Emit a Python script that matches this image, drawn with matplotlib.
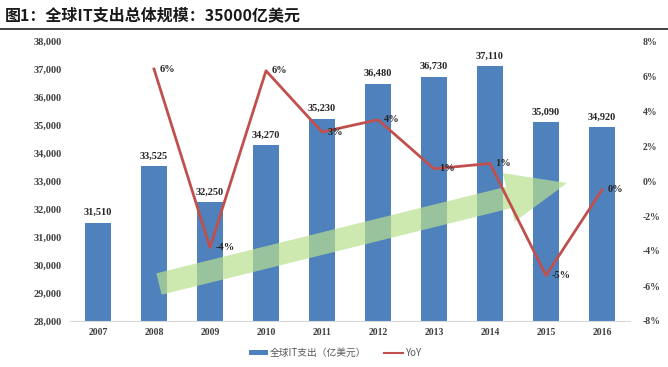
import matplotlib
matplotlib.use("Agg")
import matplotlib.pyplot as plt
import numpy as np
from matplotlib.patches import Polygon
from matplotlib.lines import Line2D
from matplotlib.patches import Patch

plt.rcParams['font.family'] = ['Noto Sans CJK SC', 'DejaVu Sans']

years = ['2007', '2008', '2009', '2010', '2011', '2012', '2013', '2014', '2015', '2016']
spend = [31510, 33525, 32250, 34270, 35230, 36480, 36730, 37110, 35090, 34920]
yoy = [None, 6.4, -3.8, 6.3, 2.8, 3.5, 0.7, 1.0, -5.4, -0.5]
yoy_labels = ['', '6%', '-4%', '6%', '3%', '4%', '1%', '1%', '-5%', '0%']
left_ticks = [28000, 29000, 30000, 31000, 32000, 33000, 34000, 35000, 36000, 37000, 38000]
right_ticks = [-8, -6, -4, -2, 0, 2, 4, 6, 8]

W, H = 668, 367
fig = plt.figure(figsize=(W / 100, H / 100), dpi=100)
fig.patch.set_facecolor('white')

# axes placement in pixels
axL, axR, axT, axB = 70, 630, 41, 321
ax = fig.add_axes([axL / W, (H - axB) / H, (axR - axL) / W, (axB - axT) / H])
ax2 = ax.twinx()

x = np.arange(len(years))
bar_color = '#4F81BD'
line_color = '#C0504D'
num_font = dict(family=['Liberation Serif', 'DejaVu Serif'], weight='bold')

ax.bar(x, spend, width=0.47, color=bar_color, zorder=2)
ax.set_ylim(28000, 38000)
ax.set_xlim(-0.5, len(years) - 0.5)
ax.set_yticks(left_ticks)
ax.set_yticklabels([f'{v:,}' for v in left_ticks], fontsize=7.5, color='#404040', **num_font)
ax.set_xticks(x)
ax.set_xticklabels(years, fontsize=7, color='#404040', **num_font)
ax.tick_params(axis='both', length=0, pad=6)
ax.tick_params(axis='x', pad=5)
for s in ['top', 'left', 'right']:
    ax.spines[s].set_visible(False)
ax.spines['bottom'].set_color('#d9d9d9')
ax.spines['bottom'].set_linewidth(0.8)

for xi, v in zip(x, spend):
    ax.text(xi, v + 200, f'{v:,}', ha='center', va='bottom', fontsize=7.5, color='#262626', zorder=6, **num_font)

# YoY line
xs = [xi for xi, v in zip(x, yoy) if v is not None]
ys = [v for v in yoy if v is not None]
ax2.plot(xs, ys, color=line_color, lw=2, zorder=5)
ax2.set_ylim(-8, 8)
ax2.set_yticks(right_ticks)
ax2.set_yticklabels([f'{v}%' for v in right_ticks], fontsize=7, color='#404040', **num_font)
ax2.tick_params(axis='y', length=0, pad=9)
for s in ['top', 'left', 'right', 'bottom']:
    ax2.spines[s].set_visible(False)
for xi, v, lab in zip(x, yoy, yoy_labels):
    if v is None:
        continue
    ax2.annotate(lab, (xi, v), xytext=(4, 0), textcoords='offset points', ha='left', va='center',
                 fontsize=7.5, color='#262626', zorder=7, **num_font)

ax.set_zorder(1)
ax2.set_zorder(2)
ax.patch.set_visible(False)
ax2.patch.set_visible(False)

# decorative green arrow (figure pixel geometry)
tail = np.array([159.0, 284.0])
tip = np.array([567.0, 183.0])
d = tip - tail
L = np.linalg.norm(d)
u = d / L
p = np.array([u[1], -u[0]])  # perpendicular
if p[1] > 0:
    p = -p
bw, hw, hl = 11.0, 25.0, 60.0
base = tip - u * hl
pts = [tail + p * bw, base + p * bw, base + p * hw, tip, base - p * hw, base - p * bw, tail - p * bw]
pts_fig = [(px / W, (H - py) / H) for px, py in pts]
arrow = Polygon(pts_fig, closed=True, transform=fig.transFigure, facecolor='#b9e08e',
                edgecolor='none', alpha=0.7, zorder=3)
ax.add_artist(arrow)
arrow.set_transform(fig.transFigure)

# title and rule
fig.text(5 / W, 1 - 15 / H, '图1：全球IT支出总体规模：35000亿美元', fontsize=11.5, fontweight='bold',
         color='#1a1a1a', ha='left', va='center')
fig.add_artist(Line2D([0, 1], [1 - 28.5 / H, 1 - 28.5 / H], transform=fig.transFigure, color='#222222', lw=1.2))

# legend
handles = [Patch(facecolor=bar_color, edgecolor='none'), Line2D([0], [0], color=line_color, lw=1.5)]
leg = fig.legend(handles, ['全球IT支出（亿美元）', 'YoY'], loc='center', bbox_to_anchor=(335 / W, 1 - 353 / H),
                 ncol=2, frameon=False, fontsize=7, handlelength=2.0, handleheight=0.5, columnspacing=1.8,
                 handletextpad=0.2)
for t in leg.get_texts():
    t.set_color('#595959')

fig.savefig('out.png', dpi=100)
